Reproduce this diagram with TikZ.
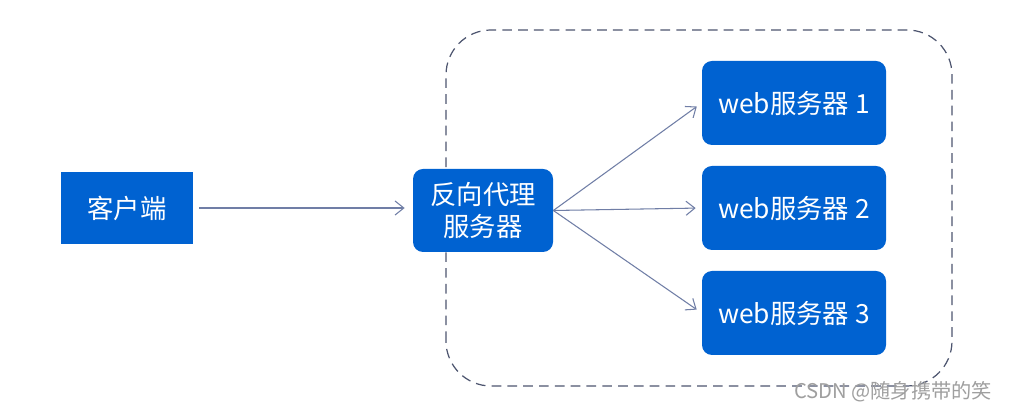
\documentclass[tikz,border=0pt]{standalone}
\usepackage{fontspec}
\usepackage{xcolor}
\usepackage{tikz}
\usetikzlibrary{arrows.meta}
\setmainfont{Noto Sans CJK SC}
\newfontfamily\cjk{Noto Sans CJK SC}

\definecolor{boxblue}{RGB}{0,98,209}
\definecolor{linkgray}{RGB}{112,126,166}
\definecolor{framegray}{RGB}{78,86,112}

\tikzset{
	srvbox/.style={fill=boxblue,text=white,rounded corners=0.2cm,align=center,
		font=\cjk\fontsize{15}{18}\selectfont,inner sep=0pt},
	link/.style={linkgray,line width=0.6pt,->}
}

\begin{document}
\begin{tikzpicture}[>={Straight Barb[length=5pt,width=8pt]}]
			
			\useasboundingbox[fill=white] (0,0) rectangle (20.26,8.26);
			
			% 虚线框
			\draw[framegray,line width=0.7pt,dash pattern=on 5.5pt off 3.5pt,rounded corners=0.9cm]
			(8.92,0.54) rectangle (19.04,7.66);
			
			% 客户端
			\node[srvbox,rounded corners=0pt,minimum width=2.64cm,minimum height=1.44cm]
			(client) at (2.54,4.10) {客户端};
			
			% 反向代理
			\node[srvbox,minimum width=2.80cm,minimum height=1.66cm]
			(proxy) at (9.66,4.05) {反向代理\\服务器};
			
			% web服务器
			\node[srvbox,minimum width=3.68cm,minimum height=1.68cm] (web1) at (15.88,6.20) {web服务器 1};
			\node[srvbox,minimum width=3.68cm,minimum height=1.68cm] (web2) at (15.88,4.10) {web服务器 2};
			\node[srvbox,minimum width=3.68cm,minimum height=1.68cm] (web3) at (15.88,2.00) {web服务器 3};
			
			\draw[link,shorten <=0.12cm,shorten >=0.16cm] (client.east)--(proxy.west |- client.east);
			\draw[link,shorten >=0.12cm] (proxy.east)--(web1.west);
			\draw[link,shorten >=0.12cm] (proxy.east)--(web2.west);
			\draw[link,shorten >=0.12cm] (proxy.east)--(web3.west);
			
			\node[text=gray!75,font=\cjk\fontsize{11.5}{13}\selectfont] (mark) at (17.86,0.42) {CSDN @随身携带的笑};
			
		\end{tikzpicture}
\end{document}
